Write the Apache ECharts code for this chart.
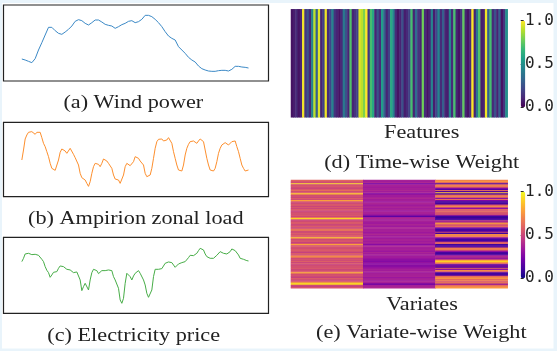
<!DOCTYPE html>
<html>
<head>
<meta charset="utf-8">
<script src="https://cdn.jsdelivr.net/npm/echarts@6/dist/echarts.min.js"></script>
<style>
  html, body { margin: 0; padding: 0; background: #e9f4fb; }
  #chart { width: 557px; height: 351px; }
</style>
</head>
<body>
<div id="chart"></div>
<script>
// (a) wind power, (b) Ampirion zonal load, (c) electricity price
const windPower = [73, 70, 66, 62, 74, 100, 122, 145, 168, 168, 158, 150, 147, 154, 162, 172, 186, 191, 188, 180,
  175, 182, 190, 190, 184, 177, 174, 172, 165, 170, 176, 180, 186, 188, 182, 185, 192, 204, 204, 200,
  192, 182, 170, 155, 142, 135, 130, 110, 100, 90, 78, 70, 64, 52, 44, 40, 37, 36, 36, 38,
  39, 39, 37, 42, 51, 51, 49, 48, 46];

const zonalLoad = [115, 145, 178, 190, 198, 202, 200, 195, 192, 198, 202, 198, 182, 165, 155, 140, 125, 105, 90, 87,
  84, 88, 115, 138, 148, 150, 142, 135, 138, 150, 148, 132, 122, 117, 100, 75, 62, 59, 55, 45,
  36, 50, 75, 95, 105, 110, 102, 95, 105, 118, 122, 112, 105, 102, 90, 70, 58, 55, 55, 45,
  40, 70, 95, 105, 102, 98, 100, 110, 125, 128, 120, 112, 110, 100, 75, 65, 62, 70, 90, 120,
  150, 170, 177, 180, 178, 172, 170, 175, 182, 180, 165, 140, 120, 100, 85, 80, 82, 100, 130, 150,
  162, 170, 175, 172, 168, 165, 172, 178, 180, 170, 145, 120, 100, 85, 80, 82, 90, 110, 135, 150,
  160, 165, 167, 165, 160, 162, 170, 175, 172, 155, 140, 120, 100, 90, 82, 82, 85];

const elecPrice = [155, 165, 178, 182, 180, 178, 176, 176, 177, 178, 174, 168, 162, 155, 140, 129, 122, 108, 115, 123,
  128, 125, 135, 142, 145, 140, 138, 132, 135, 130, 128, 122, 120, 124, 122, 100, 68, 80, 90, 90,
  70, 100, 122, 132, 132, 128, 119, 120, 128, 130, 128, 125, 130, 125, 128, 110, 100, 95, 75, 40,
  30, 45, 90, 120, 120, 110, 100, 112, 120, 125, 128, 120, 115, 100, 85, 60, 48, 50, 70, 110,
  132, 130, 132, 132, 134, 138, 150, 154, 154, 155, 152, 150, 138, 142, 148, 147, 152, 153, 155, 160,
  167, 174, 175, 173, 178, 180, 188, 195, 198, 190, 178, 170, 172, 165, 163, 165, 170, 174, 178, 185,
  182, 180, 178, 178, 180, 185, 193, 195, 188, 182, 175, 165, 162, 162, 158, 158, 157];

// (d) time-wise weight, one value per feature column
const timeWeight = [0.05, 0.08, 0.12, 0.05, 0.1, 0.98, 0.15, 0.25, 0.1, 0.45, 0.9, 0.3, 0.95, 0.1, 0.2, 0.98,
  0.12, 0.22, 0.45, 0.15, 0.1, 0.05, 0.12, 0.4, 0.25, 0.1, 0.72, 0.1, 0.15, 0.2, 0.95, 0.9,
  0.8, 1.0, 0.15, 0.7, 0.6, 0.1, 0.25, 0.12, 0.55, 0.3, 0.1, 0.2, 0.6, 0.45, 0.12, 0.05,
  0.1, 0.25, 0.08, 0.12, 0.2, 0.7, 0.1, 0.35, 0.15, 0.1, 0.78, 0.12, 0.05, 0.1, 0.45, 0.08,
  0.22, 0.45, 0.12, 0.3, 0.1, 0.08, 0.45, 0.12, 0.7, 0.1, 0.05, 0.15, 0.75, 0.1, 0.05, 0.12,
  1.0, 0.1, 0.4, 0.72, 0.08, 0.1, 0.98, 0.3, 0.7, 0.12, 0.25, 0.1, 0.3, 0.05, 0.15, 0.5];

// (e) variate-wise weight, one array per variate column
const variates = ['Wind power', 'Zonal load', 'Price'];
const varWeightA = [0.6, 0.55, 0.52, 0.92, 0.5, 0.58, 0.53, 0.48, 0.56, 0.62,
  0.52, 0.58, 0.88, 0.5, 0.55, 0.48, 0.57, 0.52, 0.78, 0.55,
  0.5, 0.53, 0.58, 0.48, 0.55, 0.5, 0.57, 0.52, 0.48, 0.56,
  0.52, 0.58, 0.5, 0.66, 0.92, 0.53, 0.48, 0.55, 0.58, 0.5,
  0.52, 0.57, 0.48, 0.55, 0.75, 0.52, 0.5, 0.57, 0.53, 0.58,
  0.55, 0.86, 0.5, 0.53, 0.58, 0.48, 0.55, 0.78, 0.52, 0.57,
  0.5, 0.55, 0.58, 0.53, 0.48, 0.57, 0.52, 0.64, 0.78, 0.5,
  0.55, 0.52, 0.58, 0.5, 0.57, 0.48, 0.55, 0.52, 0.58, 0.5,
  0.52, 0.57, 0.8, 0.5, 0.55, 0.52, 0.48, 0.57, 0.53, 0.5,
  0.58, 0.9, 0.92, 0.52, 0.48, 0.55];
const varWeightB = [0.37, 0.35, 0.39, 0.22, 0.36, 0.38, 0.34, 0.37, 0.36, 0.39,
  0.35, 0.38, 0.26, 0.36, 0.34, 0.37, 0.39, 0.35, 0.36, 0.33,
  0.37, 0.39, 0.34, 0.36, 0.38, 0.35, 0.37, 0.33, 0.36, 0.38,
  0.35, 0.3, 0.17, 0.36, 0.39, 0.34, 0.37, 0.36, 0.33, 0.38,
  0.36, 0.34, 0.39, 0.37, 0.35, 0.38, 0.33, 0.36, 0.39, 0.35,
  0.37, 0.33, 0.36, 0.38, 0.34, 0.37, 0.35, 0.28, 0.36, 0.39,
  0.34, 0.37, 0.36, 0.33, 0.38, 0.35, 0.37, 0.34, 0.36, 0.33,
  0.3, 0.29, 0.27, 0.31, 0.28, 0.3, 0.26, 0.31, 0.33, 0.36,
  0.35, 0.38, 0.34, 0.37, 0.36, 0.39, 0.33, 0.36, 0.37, 0.34,
  0.38, 0.35, 0.2, 0.36, 0.37, 0.39];
const varWeightC = [0.7, 0.75, 0.62, 0.12, 0.6, 0.78, 0.55, 0.3, 0.15, 0.6,
  0.14, 0.85, 0.1, 0.58, 0.7, 0.65, 0.3, 0.62, 0.25, 0.1,
  0.12, 0.1, 0.55, 0.78, 0.5, 0.3, 0.6, 0.55, 0.62, 0.5,
  0.58, 0.35, 0.1, 0.08, 0.12, 0.1, 0.45, 0.3, 0.78, 0.6,
  0.55, 0.62, 0.3, 0.12, 0.1, 0.15, 0.5, 0.1, 0.72, 0.7,
  0.65, 0.3, 0.12, 0.1, 0.15, 0.58, 0.6, 0.1, 0.12, 0.15,
  0.65, 0.7, 0.55, 0.3, 0.12, 0.1, 0.14, 0.35, 0.45, 0.3,
  0.4, 0.8, 0.9, 0.75, 0.55, 0.15, 0.3, 0.12, 0.6, 0.3,
  0.72, 0.55, 0.12, 0.1, 0.14, 0.6, 0.7, 0.75, 0.62, 0.68,
  0.55, 0.72, 0.3, 0.6, 0.7, 0.75];

const cbarMin = 0, cbarMax = 1, cbarStep = 0.5;

const viridis = ['#440154', '#482878', '#3e4989', '#31688e', '#26828e', '#1f9e89', '#35b779', '#6ece58', '#b5de2b', '#fde725'];
const plasma = ['#0d0887', '#46039f', '#7201a8', '#9c179e', '#bd3786', '#d8576b', '#ed7953', '#fb9f3a', '#fdca26', '#f0f921'];

const serif = '19.5px "Liberation Serif", "Times New Roman", serif';
const ink = '#222';

const timeData = timeWeight.map((v, i) => [i, 0, v]);
const varData = [];
[varWeightA, varWeightB, varWeightC].forEach((col, x) => {
  col.forEach((v, y) => varData.push([x, y, v]));
});
const rows = varWeightA.map((_, i) => String(i));

function caption(text, x, y) {
  return {
    type: 'text', x: x, y: y, scaleX: 1.14, z: 10,
    style: { text: text, font: serif, fill: ink, textAlign: 'center', textVerticalAlign: 'middle' }
  };
}

function hidden(extra) {
  return Object.assign({ show: false }, extra);
}

const chart = echarts.init(document.getElementById('chart'), null, { renderer: 'canvas' });

chart.setOption({
  backgroundColor: '#e9f4fb',
  animation: false,
  graphic: [
    { type: 'rect', z: -10, shape: { x: 2, y: 3, width: 551.5, height: 345.5 }, style: { fill: '#fff' } },
    caption('(a) Wind power', 133.3, 103.3),
    caption('(b) Ampirion zonal load', 135.8, 219),
    caption('(c) Electricity price', 133.7, 336),
    caption('Features', 421.7, 133.3),
    caption('(d) Time-wise Weight', 421.7, 163.3),
    caption('Variates', 422, 305),
    caption('(e) Variate-wise Weight', 421.3, 333.3)
  ],
  grid: [
    { left: 3.5, top: 5, width: 265, height: 76, show: true, borderColor: '#222', borderWidth: 1.2, backgroundColor: 'transparent' },
    { left: 3.5, top: 122.3, width: 265, height: 74.4, show: true, borderColor: '#222', borderWidth: 1.2, backgroundColor: 'transparent' },
    { left: 3.5, top: 237.3, width: 265, height: 76, show: true, borderColor: '#222', borderWidth: 1.2, backgroundColor: 'transparent' },
    { left: 291, top: 9.3, width: 216.7, height: 108 },
    { left: 291, top: 180, width: 216.7, height: 108.3 },
    { left: 520.7, top: 20.7, width: 4.6, height: 86.6 },
    { left: 520.7, top: 191.7, width: 4.6, height: 86.6 }
  ],
  xAxis: [
    hidden({ type: 'value', gridIndex: 0, min: -5.5, max: 74 }),
    hidden({ type: 'value', gridIndex: 1, min: -11, max: 148 }),
    hidden({ type: 'value', gridIndex: 2, min: -11, max: 148 }),
    hidden({ type: 'category', gridIndex: 3, data: timeWeight.map((_, i) => String(i)) }),
    hidden({ type: 'category', gridIndex: 4, data: variates }),
    hidden({ type: 'value', gridIndex: 5, min: 0, max: 1 }),
    hidden({ type: 'value', gridIndex: 6, min: 0, max: 1 })
  ],
  yAxis: [
    hidden({ type: 'value', gridIndex: 0, min: 7, max: 235 }),
    hidden({ type: 'value', gridIndex: 1, min: 5, max: 228 }),
    hidden({ type: 'value', gridIndex: 2, min: 0, max: 228 }),
    hidden({ type: 'category', gridIndex: 3, data: ['w'] }),
    hidden({ type: 'category', gridIndex: 4, data: rows, inverse: true }),
    ...[5, 6].map(g => ({
      type: 'value', gridIndex: g, position: 'right', min: cbarMin, max: cbarMax, interval: cbarStep,
      axisLine: { show: false },
      axisTick: { show: true, length: 3, lineStyle: { color: ink, width: 1 } },
      splitLine: { show: false },
      axisLabel: {
        margin: 2, color: ink, fontSize: 16, fontFamily: '"DejaVu Sans Mono", monospace',
        formatter: v => v.toFixed(1)
      }
    }))
  ],
  visualMap: [
    {
      type: 'continuous', seriesIndex: 3, min: cbarMin, max: cbarMax, inRange: { color: viridis },
      orient: 'vertical', left: 520.7, top: 20.7, itemWidth: 4.6, itemHeight: 86.6,
      padding: 0, calculable: false, text: null, showLabel: false
    },
    {
      type: 'continuous', seriesIndex: 4, min: cbarMin, max: cbarMax, inRange: { color: plasma },
      orient: 'vertical', left: 520.7, top: 191.7, itemWidth: 4.6, itemHeight: 86.6,
      padding: 0, calculable: false, text: null, showLabel: false
    }
  ],
  series: [
    {
      type: 'line', xAxisIndex: 0, yAxisIndex: 0, data: windPower.map((v, i) => [i, v]),
      showSymbol: false, lineStyle: { color: '#3b89c6', width: 1 }, silent: true
    },
    {
      type: 'line', xAxisIndex: 1, yAxisIndex: 1, data: zonalLoad.map((v, i) => [i, v]),
      showSymbol: false, lineStyle: { color: '#fd8f2e', width: 1 }, silent: true
    },
    {
      type: 'line', xAxisIndex: 2, yAxisIndex: 2, data: elecPrice.map((v, i) => [i, v]),
      showSymbol: false, lineStyle: { color: '#47ad47', width: 1 }, silent: true
    },
    {
      type: 'heatmap', xAxisIndex: 3, yAxisIndex: 3, data: timeData, silent: true,
      itemStyle: { borderWidth: 0 }
    },
    {
      type: 'heatmap', xAxisIndex: 4, yAxisIndex: 4, data: varData, silent: true,
      itemStyle: { borderWidth: 0 }
    }
  ]
});
</script>
</body>
</html>
